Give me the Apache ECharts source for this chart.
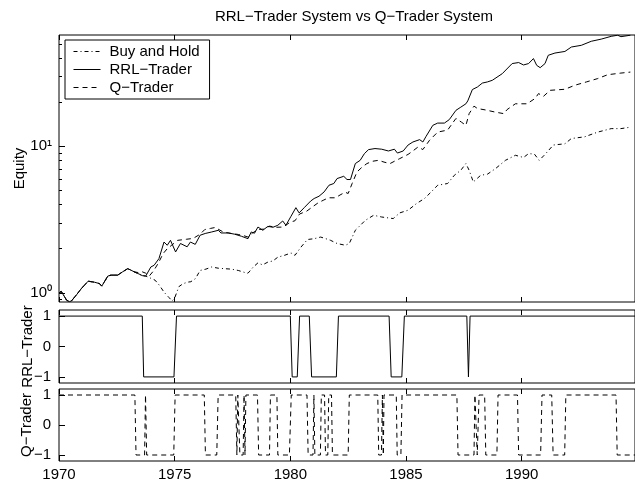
<!DOCTYPE html>
<html><head><meta charset="utf-8">
<script src="https://cdn.jsdelivr.net/npm/echarts@6/dist/echarts.min.js"></script>
<style>html,body{margin:0;padding:0;background:#fff}#c{width:635px;height:482px}</style>
</head><body><div id="c"></div>
<script>
// ---------- data ----------
const xTicks = [1970, 1975, 1980, 1985, 1990];
const logMajorTicks = [1, 10];
const logMinorTicks = [0.9, 2, 3, 4, 5, 6, 7, 8, 9, 20, 30, 40, 50];
const posTicks = [-1, 0, 1];

// all three strategies are long (identical equity) until mid 1973
const sharedStart = [
  [1970.00,1.00],[1970.10,1.02],[1970.18,1.01],[1970.33,0.89],[1970.45,0.87],[1970.54,0.88],
  [1970.76,0.97],[1970.97,1.07],[1971.26,1.20],[1971.40,1.19],[1971.54,1.18],[1971.75,1.155],
  [1971.85,1.11],[1972.11,1.30],[1972.25,1.32],[1972.54,1.32],[1972.75,1.39],[1972.97,1.46],
  [1973.10,1.43],[1973.25,1.39]
];

const buyHoldRest = [
  [1973.47,1.34],[1973.60,1.31],[1973.75,1.30],[1973.95,1.26],[1974.15,1.22],[1974.35,1.12],
  [1974.54,1.01],[1974.75,0.93],[1974.89,0.88],[1975.00,0.92],[1975.18,1.10],[1975.35,1.15],
  [1975.54,1.18],[1975.70,1.19],[1975.90,1.25],[1976.10,1.42],[1976.35,1.45],[1976.60,1.50],
  [1976.90,1.47],[1977.17,1.46],[1977.45,1.45],[1977.75,1.42],[1978.00,1.38],[1978.17,1.36],
  [1978.40,1.50],[1978.60,1.60],[1978.80,1.55],[1979.03,1.62],[1979.25,1.65],[1979.46,1.75],
  [1979.74,1.80],[1980.03,1.87],[1980.20,1.80],[1980.46,2.05],[1980.74,2.31],[1981.03,2.34],
  [1981.31,2.40],[1981.50,2.35],[1981.74,2.28],[1982.02,2.17],[1982.38,2.11],[1982.55,2.17],
  [1982.81,2.67],[1983.24,3.12],[1983.60,3.38],[1983.95,3.29],[1984.45,3.21],[1984.73,3.51],
  [1985.09,3.66],[1985.45,4.06],[1985.80,4.40],[1986.09,4.88],[1986.37,5.42],[1986.80,5.57],
  [1987.09,6.34],[1987.37,6.86],[1987.59,7.62],[1987.73,6.86],[1987.91,5.71],[1988.23,6.34],
  [1988.52,6.45],[1988.87,7.04],[1989.30,8.02],[1989.73,8.68],[1990.08,8.39],[1990.30,8.91],
  [1990.55,8.85],[1990.76,8.02],[1991.01,8.80],[1991.37,10.2],[1991.87,10.4],[1992.15,11.3],
  [1992.72,11.6],[1993.29,12.5],[1993.87,13.2],[1994.29,13.2],[1994.70,13.5]
];

const rrlRest = [
  [1973.47,1.34],[1973.60,1.31],[1973.75,1.30],[1973.82,1.27],[1973.97,1.50],[1974.11,1.54],
  [1974.32,1.71],[1974.54,2.22],[1974.68,2.11],[1974.82,2.28],[1975.04,1.90],[1975.25,2.17],
  [1975.54,2.06],[1975.68,2.22],[1975.89,2.14],[1976.10,2.47],[1976.32,2.54],[1976.60,2.60],
  [1976.89,2.67],[1977.00,2.56],[1977.32,2.56],[1977.60,2.51],[1977.89,2.43],[1978.17,2.34],
  [1978.31,2.60],[1978.45,2.55],[1978.60,2.81],[1978.81,2.67],[1979.03,2.84],[1979.25,2.80],
  [1979.46,2.89],[1979.67,3.09],[1979.81,2.89],[1980.03,3.33],[1980.24,3.81],[1980.38,3.51],
  [1980.60,3.81],[1980.88,4.23],[1981.03,4.40],[1981.24,4.56],[1981.46,4.88],[1981.67,5.42],
  [1981.88,5.57],[1982.02,6.02],[1982.31,6.24],[1982.45,5.93],[1982.60,5.93],[1982.81,7.62],
  [1983.02,8.02],[1983.20,8.90],[1983.38,9.49],[1983.66,9.65],[1983.95,9.55],[1984.24,9.29],
  [1984.50,9.55],[1984.63,8.99],[1984.88,9.29],[1985.09,10.2],[1985.30,10.7],[1985.59,11.1],
  [1985.73,10.7],[1985.87,11.7],[1986.16,13.9],[1986.37,14.4],[1986.66,14.4],[1986.87,15.2],
  [1987.16,17.6],[1987.37,18.5],[1987.59,19.5],[1987.67,20.4],[1987.87,24.4],[1988.09,25.4],
  [1988.30,27.0],[1988.52,27.5],[1988.73,28.2],[1989.16,31.3],[1989.59,36.7],[1989.87,37.3],
  [1990.08,35.9],[1990.30,36.7],[1990.51,39.7],[1990.65,35.7],[1990.80,34.4],[1991.01,36.7],
  [1991.15,41.8],[1991.44,43.3],[1991.87,44.4],[1992.15,47.6],[1992.58,48.9],[1993.01,52.1],
  [1993.44,53.9],[1993.87,56.3],[1994.15,57.3],[1994.29,56.0],[1994.70,57.3]
];

const qRest = [
  [1973.47,1.37],[1973.60,1.39],[1973.75,1.36],[1973.90,1.30],[1974.10,1.42],[1974.30,1.60],
  [1974.50,1.85],[1974.68,2.00],[1974.85,2.10],[1975.13,2.28],[1975.52,2.32],[1975.80,2.35],
  [1976.10,2.51],[1976.30,2.70],[1976.55,2.75],[1976.75,2.79],[1977.10,2.60],[1977.45,2.54],
  [1977.75,2.50],[1978.00,2.45],[1978.17,2.40],[1978.35,2.55],[1978.60,2.70],[1978.85,2.72],
  [1979.10,2.85],[1979.40,2.80],[1979.70,2.81],[1980.00,3.04],[1980.20,3.10],[1980.40,3.45],
  [1980.70,3.60],[1981.00,3.90],[1981.20,4.11],[1981.45,4.30],[1981.65,4.45],[1981.95,4.45],
  [1982.15,4.65],[1982.37,4.86],[1982.50,4.76],[1982.67,5.56],[1982.88,6.68],[1983.10,7.20],
  [1983.31,7.62],[1983.55,7.90],[1983.81,8.02],[1984.05,7.80],[1984.31,7.62],[1984.50,7.90],
  [1984.73,8.24],[1985.09,8.80],[1985.30,9.30],[1985.52,9.89],[1985.73,9.50],[1986.02,11.0],
  [1986.37,12.5],[1986.80,12.9],[1987.16,15.5],[1987.40,14.6],[1987.59,13.9],[1987.73,16.7],
  [1987.94,18.8],[1988.09,18.1],[1988.44,17.7],[1988.87,17.1],[1989.23,16.7],[1989.37,17.8],
  [1989.73,19.5],[1990.23,19.5],[1990.58,21.2],[1990.73,22.9],[1990.94,21.9],[1991.23,24.1],
  [1991.87,24.5],[1992.30,26.1],[1992.80,27.5],[1993.29,29.0],[1993.72,30.8],[1994.29,31.6],
  [1994.70,32.1]
];

const rrlPosition = [
  [1970.00,1],[1973.60,1],[1973.66,-1],[1974.97,-1],[1975.08,1],[1980.00,1],[1980.08,-1],
  [1980.30,-1],[1980.40,1],[1980.82,1],[1980.92,-1],[1981.99,-1],[1982.08,1],[1984.27,1],
  [1984.36,-1],[1984.82,-1],[1984.93,1],[1987.63,1],[1987.70,-1],[1987.77,1],[1994.90,1]
];

const qPosition = [
  [1970.00,1],[1973.28,1],[1973.33,-1],[1973.70,-1],[1973.74,1],[1973.79,-1],[1974.96,-1],
  [1975.02,1],[1976.28,1],[1976.33,-1],[1976.82,-1],[1976.88,1],[1977.64,1],[1977.69,-1],
  [1977.73,1],[1977.78,1],[1977.82,-1],[1977.96,-1],[1978.00,1],[1978.04,-1],[1978.08,1],
  [1978.58,1],[1978.63,-1],[1979.10,-1],[1979.14,1],[1979.42,1],[1979.46,-1],[1979.96,-1],
  [1980.04,1],[1980.72,1],[1980.77,-1],[1980.98,-1],[1981.02,1],[1981.06,-1],[1981.30,-1],
  [1981.34,1],[1981.48,1],[1981.52,-1],[1981.62,-1],[1981.66,1],[1981.78,1],[1981.82,-1],
  [1982.50,-1],[1982.55,1],[1983.78,1],[1983.82,-1],[1983.94,-1],[1983.98,1],[1984.02,-1],
  [1984.05,1],[1984.58,1],[1984.62,-1],[1984.78,-1],[1984.83,1],[1987.20,1],[1987.25,-1],
  [1987.94,-1],[1987.98,1],[1988.04,1],[1988.08,-1],[1988.12,-1],[1988.16,1],[1988.40,1],
  [1988.45,-1],[1988.93,-1],[1988.98,1],[1989.82,1],[1989.87,-1],[1990.82,-1],[1990.88,1],
  [1991.30,1],[1991.36,-1],[1991.86,-1],[1991.91,1],[1994.08,1],[1994.13,-1],[1994.90,-1]
];

const buyHold = sharedStart.concat(buyHoldRest);
const rrlEquity = sharedStart.concat(rrlRest);
const qEquity = sharedStart.concat(qRest);

// ---------- chart ----------
const FONT = "'Liberation Sans', Arial, Helvetica, sans-serif";
const XMIN = 1970, XMAX = 1994.9;
const gridLeft = 59, gridWidth = 582;
const grids = [
  {left: gridLeft, top: 35, width: gridWidth, height: 267},
  {left: gridLeft, top: 310, width: gridWidth, height: 73},
  {left: gridLeft, top: 389, width: gridWidth, height: 73}
].map(g => Object.assign(g, {show: true, borderColor: '#000', borderWidth: 1, backgroundColor: 'transparent'}));

const tickLine = {color: '#000', width: 1};
function xAxisFor(gi, pos, labels) {
  return {
    gridIndex: gi, type: 'value', position: pos, min: XMIN, max: XMAX,
    axisLine: {show: false, onZero: false}, splitLine: {show: false},
    axisTick: {show: true, inside: true, length: 5, lineStyle: tickLine, customValues: xTicks},
    axisLabel: {show: labels, customValues: xTicks, color: '#000', fontSize: 15, fontFamily: FONT, margin: 6,
      formatter: v => String(Math.round(v))}
  };
}
const minus = v => v < 0 ? '\u2212' + Math.abs(v) : String(v);
const supDigits = {'0': '\u2070', '1': '\u00b9', '2': '\u00b2'};
function posAxis(gi, name, gap) {
  return {
    gridIndex: gi, type: 'value', min: -1.2, max: 1.2, position: 'left',
    axisLine: {show: false, onZero: false}, splitLine: {show: false},
    axisTick: {show: true, inside: true, length: 6, lineStyle: tickLine, customValues: posTicks},
    axisLabel: {customValues: posTicks, color: '#000', fontSize: 15, fontFamily: FONT, margin: 8, formatter: minus},
    name: name, nameLocation: 'middle', nameGap: gap, nameMoveOverlap: false,
    nameTextStyle: {color: '#000', fontSize: 15, fontFamily: FONT}
  };
}

const option = {
  animation: false,
  backgroundColor: '#fff',
  title: {
    text: 'RRL\u2212Trader System vs Q\u2212Trader System',
    left: 349, top: 4, textAlign: 'center',
    textStyle: {color: '#000', fontSize: 15, fontWeight: 'normal', fontFamily: FONT}
  },
  legend: {
    data: ['Buy and Hold', 'RRL\u2212Trader', 'Q\u2212Trader'],
    orient: 'vertical', left: 65, top: 40,
    itemWidth: 27, itemHeight: 12, itemGap: 3,
    padding: [4, 10, 4, 8],
    borderColor: '#000', borderWidth: 1, backgroundColor: '#fff', borderRadius: 0,
    itemStyle: {opacity: 0},
    lineStyle: {width: 1},
    textStyle: {color: '#000', fontSize: 15, fontFamily: FONT, padding: [0, 0, 0, 4]}
  },
  grid: grids,
  xAxis: [
    xAxisFor(0, 'bottom', false), xAxisFor(0, 'top', false),
    xAxisFor(1, 'bottom', false), xAxisFor(1, 'top', false),
    xAxisFor(2, 'bottom', true),  xAxisFor(2, 'top', false)
  ],
  yAxis: [
    {
      gridIndex: 0, type: 'log', logBase: 10, min: 0.865, max: 57.5, position: 'left',
      axisLine: {show: false, onZero: false}, splitLine: {show: false},
      axisTick: {show: true, inside: true, length: 6, lineStyle: tickLine, customValues: logMajorTicks},
      axisLabel: {
        customValues: logMajorTicks, margin: 7, color: '#000', fontSize: 15, fontFamily: FONT,
        formatter: v => '10' + String(Math.round(Math.log10(v))).split('').map(d => supDigits[d] || d).join('')
      },
      name: 'Equity', nameLocation: 'middle', nameGap: 32, nameMoveOverlap: false,
      nameTextStyle: {color: '#000', fontSize: 15, fontFamily: FONT}
    },
    {
      gridIndex: 0, type: 'log', logBase: 10, min: 0.865, max: 57.5, position: 'left',
      axisLine: {show: false, onZero: false}, splitLine: {show: false},
      axisTick: {show: true, inside: true, length: 3, lineStyle: tickLine, customValues: logMinorTicks},
      axisLabel: {show: false}
    },
    posAxis(1, 'RRL\u2212Trader', 24),
    posAxis(2, 'Q\u2212Trader', 25)
  ],
  series: [
    {name: 'Buy and Hold', type: 'line', xAxisIndex: 0, yAxisIndex: 0, data: buyHold,
      symbol: 'none', lineStyle: {color: '#000', width: 1, type: [4, 3, 1, 3]}, itemStyle: {color: '#000'}},
    {name: 'RRL\u2212Trader', type: 'line', xAxisIndex: 0, yAxisIndex: 0, data: rrlEquity,
      symbol: 'none', lineStyle: {color: '#000', width: 1, type: 'solid'}, itemStyle: {color: '#000'}},
    {name: 'Q\u2212Trader', type: 'line', xAxisIndex: 0, yAxisIndex: 0, data: qEquity,
      symbol: 'none', lineStyle: {color: '#000', width: 1, type: [5, 4]}, itemStyle: {color: '#000'}},
    {name: 'rrlPos', type: 'line', xAxisIndex: 2, yAxisIndex: 2, data: rrlPosition,
      symbol: 'none', lineStyle: {color: '#000', width: 1, type: 'solid'}},
    {name: 'qPos', type: 'line', xAxisIndex: 4, yAxisIndex: 3, data: qPosition,
      symbol: 'none', lineStyle: {color: '#000', width: 1, type: [5, 4]}}
  ]
};
const chart = echarts.init(document.getElementById('c'), null, {renderer: 'canvas'});
chart.setOption(option);
</script>
</body></html>
